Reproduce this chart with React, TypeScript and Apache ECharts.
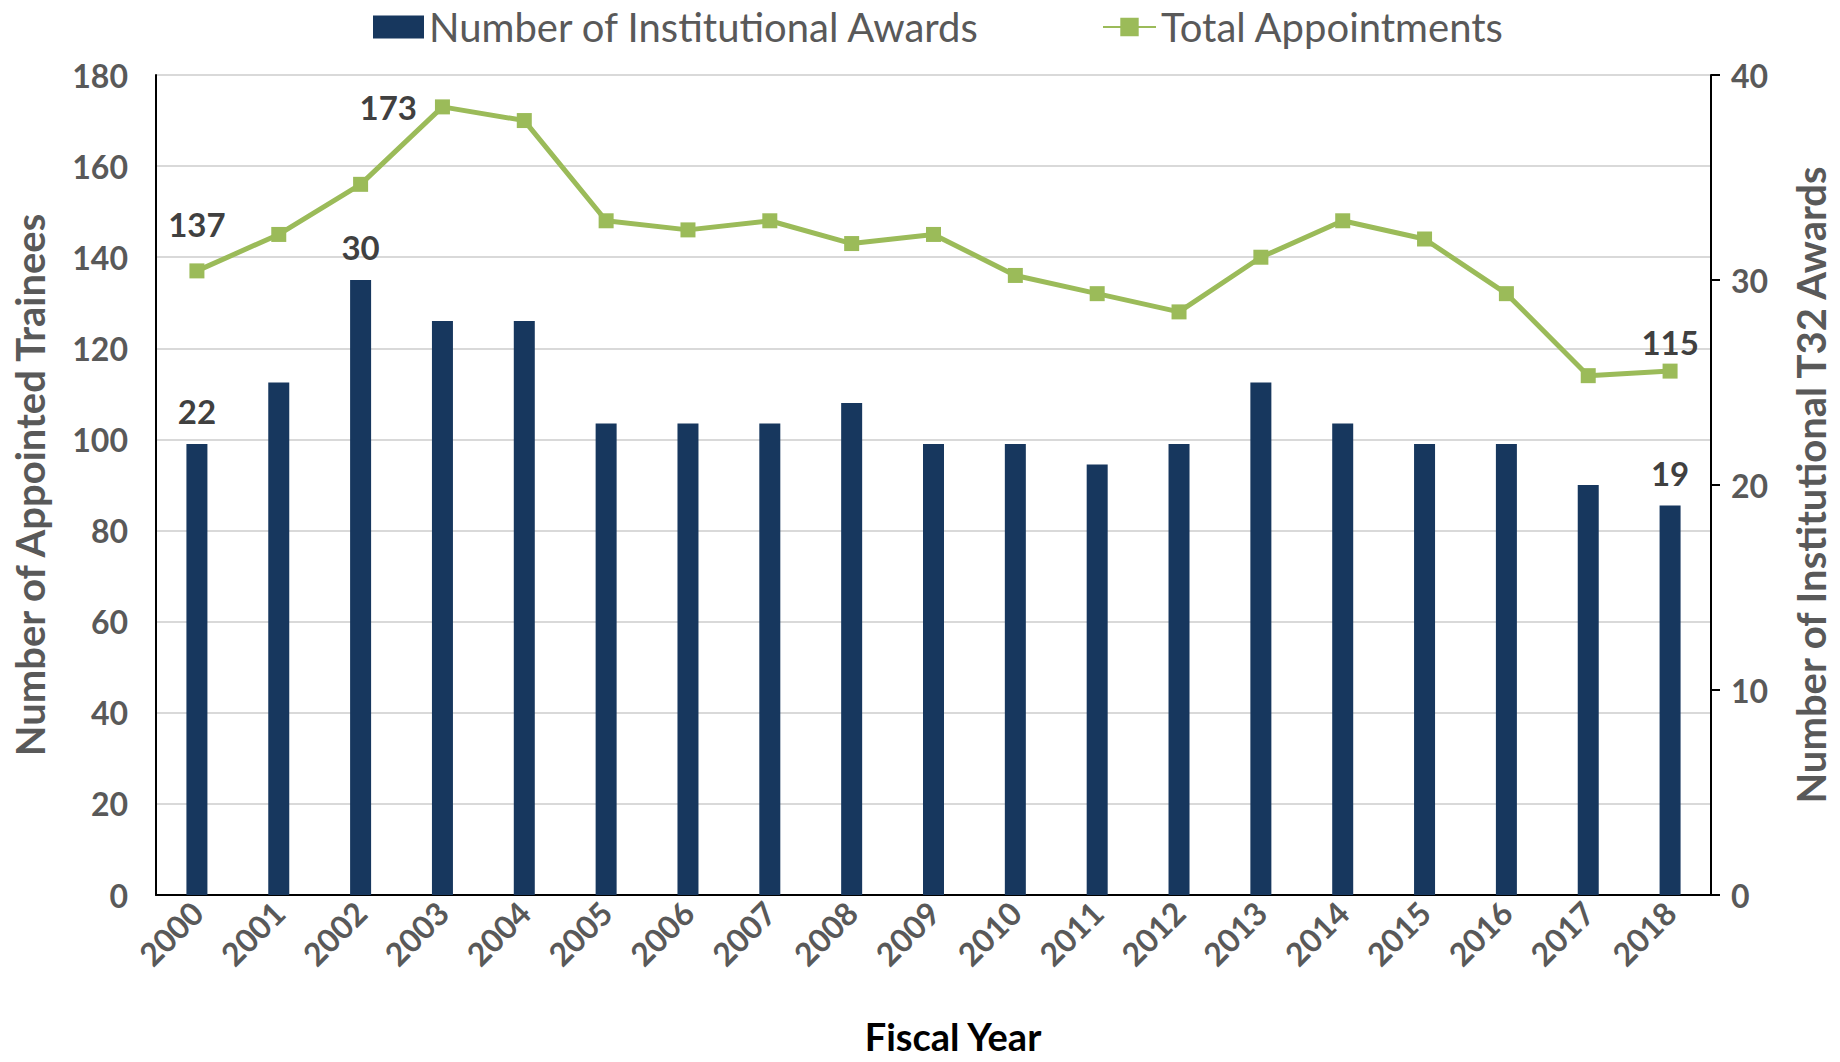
import React, { useEffect, useRef } from "react";
import * as echarts from "echarts";

const years = ["2000","2001","2002","2003","2004","2005","2006","2007","2008","2009","2010","2011","2012","2013","2014","2015","2016","2017","2018"];
const awards = [22, 25, 30, 28, 28, 23, 23, 23, 24, 22, 22, 21, 22, 25, 23, 22, 22, 20, 19];
const appointments = [137, 145, 156, 173, 170, 148, 146, 148, 143, 145, 136, 132, 128, 140, 148, 144, 132, 114, 115];
const leftTicks = { min: 0, max: 180, interval: 20 };
const rightTicks = { min: 0, max: 40, interval: 10 };

const barLabelIdx: Record<number, number> = { 0: 17, 2: 17, 18: 16 };
const lineLabelCfg: Record<number, any> = {
  0: { position: "top", distance: 23 },
  3: { position: "left", distance: 18 },
  18: { position: "top", distance: 5 },
};

const FONT = "Lato, 'Open Sans', sans-serif";
const GRAY = "#595959";
const LABEL = "#404040";

export default function App() {
  const ref = useRef<HTMLDivElement>(null);
  useEffect(() => {
    if (!ref.current) return;
    const chart = echarts.init(ref.current, undefined, { renderer: "svg" });
    const labelStyle = { color: LABEL, fontFamily: FONT, fontWeight: "bold", fontSize: 33 };
    const barData = awards.map((v, i) =>
      barLabelIdx[i] !== undefined
        ? { value: v, label: { show: true, position: "top", distance: barLabelIdx[i], ...labelStyle } }
        : { value: v }
    );
    const lineData = appointments.map((v, i) =>
      lineLabelCfg[i]
        ? { value: v, label: { show: true, ...lineLabelCfg[i], ...labelStyle } }
        : { value: v }
    );
    chart.setOption({
      animation: false,
      backgroundColor: "#fff",
      textStyle: { fontFamily: FONT },
      grid: { left: 156, right: 129, top: 75, bottom: 167, containLabel: false },
      legend: [
        {
          left: 368, top: 2, itemWidth: 51, itemHeight: 23, itemGap: 0,
          data: [{ name: "Number of Institutional Awards", icon: "rect" }],
          textStyle: { color: GRAY, fontSize: 40, fontFamily: FONT, padding: [0, 0, 0, 0] },
        },
        {
          left: 1097, top: 2, itemWidth: 53, itemHeight: 23, itemGap: 0,
          data: [{ name: "Total Appointments" }],
          textStyle: { color: GRAY, fontSize: 40, fontFamily: FONT, padding: [0, 0, 0, 0] },
        },
      ],
      xAxis: {
        type: "category",
        data: years,
        axisLine: { lineStyle: { color: "#000", width: 2 } },
        axisTick: { show: false },
        axisLabel: { rotate: 45, margin: 12, color: GRAY, fontWeight: "bold", fontSize: 32, fontFamily: FONT },
      },
      yAxis: [
        {
          type: "value",
          ...leftTicks,
          name: "Number of Appointed Trainees",
          nameLocation: "middle",
          nameGap: 106,
          nameTextStyle: { color: GRAY, fontWeight: "bold", fontSize: 40, fontFamily: FONT },
          axisLine: { show: true, lineStyle: { color: "#000", width: 2 } },
          axisTick: { show: false },
          axisLabel: { color: GRAY, fontWeight: "bold", fontSize: 32, fontFamily: FONT, margin: 28 },
          splitLine: { lineStyle: { color: "#D9D9D9", width: 2 } },
        },
        {
          type: "value",
          ...rightTicks,
          position: "right",
          name: "Number of Institutional T32 Awards",
          nameLocation: "middle",
          nameGap: 80,
          nameRotate: 90,
          nameTextStyle: { color: GRAY, fontWeight: "bold", fontSize: 40, fontFamily: FONT },
          axisLine: { show: true, lineStyle: { color: "#000", width: 2 } },
          axisTick: { show: true, inside: false, length: 9, lineStyle: { color: "#000", width: 2 } },
          axisLabel: { color: GRAY, fontWeight: "bold", fontSize: 32, fontFamily: FONT, margin: 20 },
          splitLine: { show: false },
        },
      ],
      series: [
        {
          name: "Number of Institutional Awards",
          type: "bar",
          yAxisIndex: 1,
          barWidth: 21,
          itemStyle: { color: "#17375E" },
          data: barData,
        },
        {
          name: "Total Appointments",
          type: "line",
          yAxisIndex: 0,
          symbol: "rect",
          symbolSize: 15,
          lineStyle: { color: "#9BBB59", width: 5 },
          itemStyle: { color: "#9BBB59" },
          data: lineData,
        },
      ],
      graphic: [
        {
          type: "text",
          x: 953,
          y: 1036,
          style: {
            text: "Fiscal Year",
            fill: "#000",
            font: `bold 38px ${FONT}`,
            align: "center",
            verticalAlign: "middle",
          },
        },
      ],
    });
    return () => chart.dispose();
  }, []);
  return <div ref={ref} style={{ width: 1840, height: 1062, position: "absolute", left: 0, top: 0 }} />;
}
